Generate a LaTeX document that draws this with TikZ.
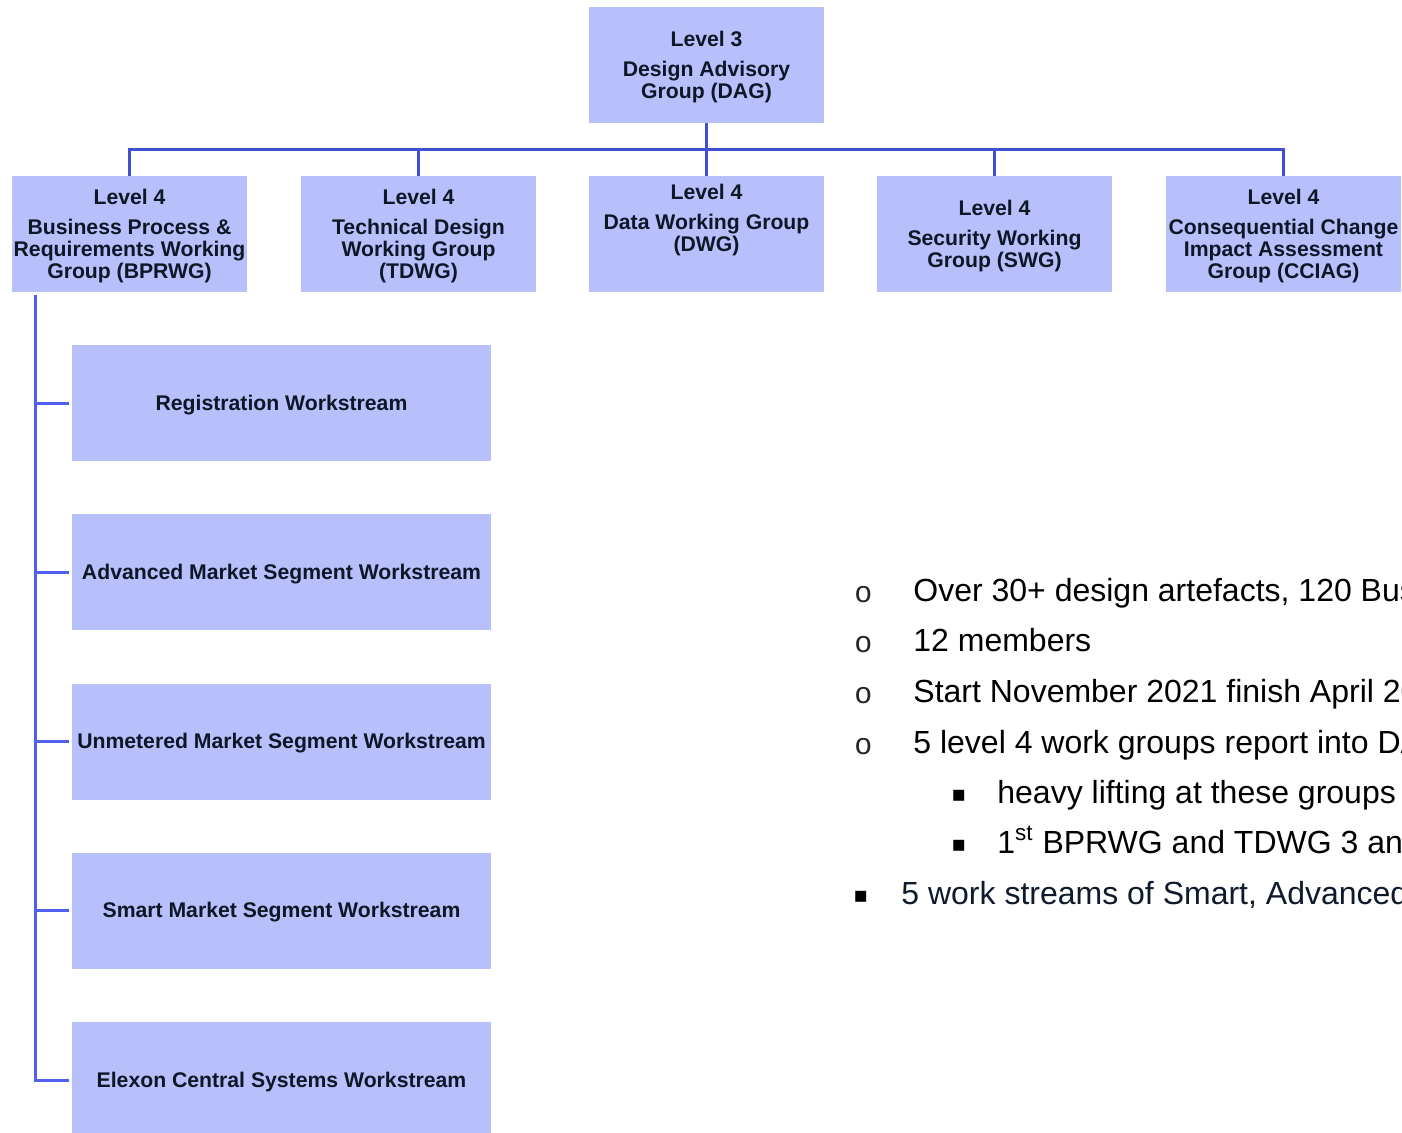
\documentclass[tikz,border=0pt]{standalone}
\usepackage{fontspec}
\setmainfont{Liberation Sans}
\newfontfamily\monof{Liberation Mono}
\newfontfamily\dejav{DejaVu Sans}
\definecolor{boxfill}{HTML}{B8C0FC}
\definecolor{toplin}{HTML}{4050D0}
\definecolor{leftlin}{HTML}{5060EC}
\definecolor{txt}{HTML}{0D1726}
\definecolor{btext}{HTML}{0F1B2D}
\begin{document}
\begin{tikzpicture}[x=0.5pt,y=-0.5pt,
  grp/.style={fill=boxfill, draw=none, minimum width=117.5pt, minimum height=58pt,
    align=center, font=\bfseries\fontsize{10.6}{11}\selectfont, text=txt, inner sep=0pt,
    text depth=0.5pt},
  ws/.style={grp, minimum width=209.5pt},
  conn/.style={draw=toplin, line width=1.5pt},
  lconn/.style={draw=leftlin, line width=1.5pt},
  btxt/.style={anchor=base west, font=\fontsize{16}{18}\selectfont, inner sep=0pt, text=black},
  obul/.style={anchor=base west, font=\monof\fontsize{15}{18}\selectfont, inner sep=0pt, text=black!85},
  sbul/.style={anchor=base west, font=\dejav\fontsize{11}{13}\selectfont, inner sep=0pt, text=black}]
\clip (0,0) rectangle (1402,1132);
\fill[white] (0,0) rectangle (1402,1132);

\node[grp] (dag) at (706.5,65) {Level 3\\[4pt]Design Advisory\\Group (DAG)};
\node[grp] (bprwg) at (129.5,234) {Level 4\\[4pt]Business Process \&\\Requirements Working\\Group (BPRWG)};
\node[grp] (tdwg) at (418.5,234) {Level 4\\[4pt]Technical Design\\Working Group\\(TDWG)};
\node[grp] (dwg) at (706.5,234) {Level 4\\[4pt]Data Working Group\\(DWG)\\[4.5pt]\mbox{}};
\node[grp] (swg) at (994.5,234) {Level 4\\[4pt]Security Working\\Group (SWG)};
\node[grp] (cciag) at (1283.5,234) {Level 4\\[4pt]Consequential Change\\Impact Assessment\\Group (CCIAG)};

\node[ws] (ws1) at (281.5,403) {Registration Workstream};
\node[ws] (ws2) at (281.5,572) {Advanced Market Segment Workstream};
\node[ws] (ws3) at (281.5,741.5) {Unmetered Market Segment Workstream};
\node[ws] (ws4) at (281.5,910.5) {Smart Market Segment Workstream};
\node[ws] (ws5) at (281.5,1080) {Elexon Central Systems Workstream};

\coordinate (bus) at (706.5,149);
\draw[conn] (dag.south) -- (dwg.north);
\draw[conn] (bprwg.north) -- (bprwg.north |- bus) -- (cciag.north |- bus) -- (cciag.north);
\draw[conn] (tdwg.north |- bus) -- (tdwg.north);
\draw[conn] (swg.north |- bus) -- (swg.north);

\coordinate (lv) at (35,295);
\draw[lconn] (lv) |- ([xshift=-1.5pt]ws5.west);
\foreach \w in {ws1,ws2,ws3,ws4}
  \draw[lconn] (\w.west -| lv) -- ([xshift=-1.5pt]\w.west);

\node[obul] (b1) at (854,602) {o};
\node[obul] (b2) at (854,652) {o};
\node[obul] (b3) at (854,703) {o};
\node[obul] (b4) at (854,754) {o};
\node[sbul] (b5) at (951,801) {▪};
\node[sbul] (b6) at (951,851) {▪};
\node[sbul] (b7) at (853,902) {▪};

\node[btxt] (t1) at (913,601) {Over 30+ design artefacts, 120 Bus};
\node[btxt] (t2) at (913,651) {12 members};
\node[btxt] (t3) at (913,702) {Start November 2021 finish April 20};
\node[btxt] (t4) at (913,753) {5 level 4 work groups report into DA};
\node[btxt] (t5) at (997,803) {heavy lifting at these groups};
\node[btxt] (t6) at (997,853) {1\textsuperscript{st} BPRWG and TDWG 3 and};
\node[btxt, text=btext] (t7) at (901,904) {5 work streams of Smart, Advanced};
\end{tikzpicture}
\end{document}
